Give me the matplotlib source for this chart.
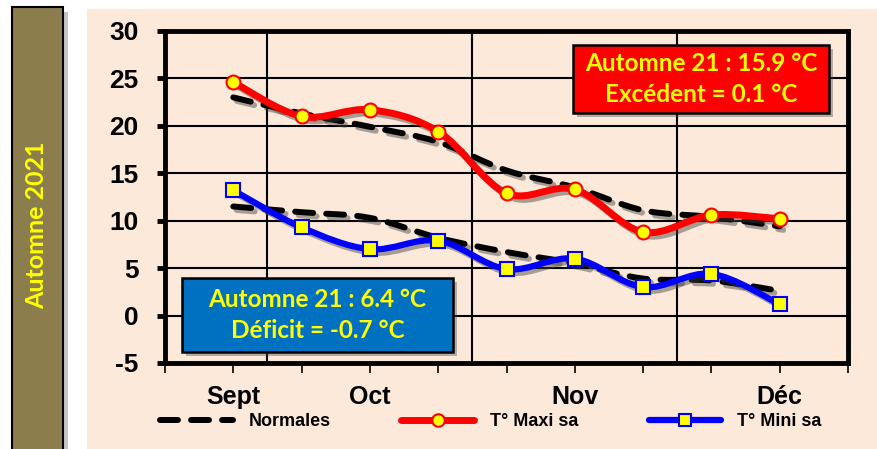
import numpy as np
import matplotlib
matplotlib.use("Agg")
import matplotlib.pyplot as plt
import matplotlib.patheffects as pe
from matplotlib.path import Path
from matplotlib.patches import PathPatch, Rectangle
from matplotlib.lines import Line2D

# Données
positions = np.arange(9)
tick_pos = np.arange(-1, 10)
tick_labels = ["", "Sept", "", "Oct", "", "", "Nov", "", "", "Déc", ""]
month_edges = [0.5, 3.5, 6.5]

t_maxi = [24.6, 21.0, 21.7, 19.4, 12.9, 13.3, 8.8, 10.6, 10.2]
t_mini = [13.2, 9.3, 7.0, 7.9, 4.9, 6.0, 3.0, 4.4, 1.2]
norm_maxi = [23.0, 21.3, 19.9, 18.3, 15.3, 13.5, 11.1, 10.4, 9.4]
norm_mini = [11.5, 10.9, 10.3, 8.2, 6.7, 5.5, 3.9, 3.7, 2.6]

PEACH = "#FCE9DA"
OLIVE = "#8C7E4C"
YELLOW = "#FFFF00"

plt.rcParams['font.family'] = ['Liberation Sans', 'DejaVu Sans']
plt.rcParams['axes.unicode_minus'] = False


def courbe_lissee(x, y):
    # lissage type Excel (Bezier de Catmull-Rom)
    pts = np.column_stack([x, y]).astype(float)
    n = len(pts)
    verts = [pts[0]]
    codes = [Path.MOVETO]
    for i in range(n - 1):
        p0 = pts[max(i - 1, 0)]
        p1 = pts[i]
        p2 = pts[i + 1]
        p3 = pts[min(i + 2, n - 1)]
        verts += [p1 + (p2 - p0) / 6, p2 - (p3 - p1) / 6, p2]
        codes += [Path.CURVE4] * 3
    return Path(verts, codes)


ombre = [pe.SimpleLineShadow(offset=(2.5, -2.5), shadow_color='0.25', alpha=0.45), pe.Normal()]
tirets = (0, (3.0, 2.2))

fig = plt.figure(figsize=(8.77, 4.49), dpi=100)

# fond saumon
fig.patches.append(Rectangle((87 / 877, 0), 1, (449 - 9) / 449, transform=fig.transFigure,
                             facecolor=PEACH, edgecolor='none', zorder=-2))
# bandeau olive
fig.patches.append(Rectangle((17 / 877, -0.02), 51 / 877, (449 - 12) / 449 + 0.02, transform=fig.transFigure,
                             facecolor='0.55', edgecolor='none', alpha=0.5, zorder=-1))
fig.patches.append(Rectangle((12 / 877, -0.02), 51 / 877, (449 - 7) / 449 + 0.02, transform=fig.transFigure,
                             facecolor=OLIVE, edgecolor='black', linewidth=1.5, zorder=-1))
fig.text(37 / 877, 1 - 225 / 449, "Automne 2021", rotation=90, color=YELLOW, fontsize=18,
         fontweight='bold', family=['Lato', 'DejaVu Sans'], ha='center', va='center')

ax = fig.add_axes([165 / 877, 86 / 449, 683 / 877, 332 / 449])
ax.set_facecolor(PEACH)
ax.set_xlim(-1, 9)
ax.set_ylim(-5, 30)

# grille
ax.set_yticks(range(-5, 31, 5))
ax.yaxis.grid(True, color='black', linewidth=1.5)
for xe in month_edges:
    ax.axvline(xe, color='black', linewidth=1.5, zorder=1)
ax.set_axisbelow(True)

for s in ax.spines.values():
    s.set_linewidth(3.5)

ax.set_xticks(tick_pos)
ax.set_xticklabels(tick_labels)
ax.tick_params(axis='y', length=6, width=3.5, pad=13, labelsize=19)
ax.tick_params(axis='x', length=7, width=1.2, pad=9, labelsize=18)
for lab in ax.get_xticklabels() + ax.get_yticklabels():
    lab.set_fontweight('bold')

# normales en tirets
for serie in (norm_maxi, norm_mini):
    ax.add_patch(PathPatch(courbe_lissee(positions, serie), facecolor='none', edgecolor='black',
                           linewidth=4.3, linestyle=tirets, capstyle='round',
                           zorder=3, path_effects=ombre))

# températures mesurées
ax.add_patch(PathPatch(courbe_lissee(positions, t_maxi), facecolor='none', edgecolor='red',
                       linewidth=5, capstyle='round', zorder=4, path_effects=ombre))
ax.plot(positions, t_maxi, ls='none', marker='o', ms=10, mfc=YELLOW, mec='red', mew=1.5, zorder=5)

ax.add_patch(PathPatch(courbe_lissee(positions, t_mini), facecolor='none', edgecolor='blue',
                       linewidth=4.5, capstyle='round', zorder=4, path_effects=ombre))
ax.plot(positions, t_mini, ls='none', marker='s', ms=10, mfc=YELLOW, mec='blue', mew=1.5, zorder=5)

# encadrés
def encadre(x0, y0, x1, y1, couleur, lignes):
    w = (x1 - x0) / 877
    h = (y1 - y0) / 449
    fig.patches.append(Rectangle((x0 / 877 + 4 / 877, 1 - y1 / 449 - 4 / 449), w, h,
                                 transform=fig.transFigure, facecolor='0.3', alpha=0.4,
                                 edgecolor='none', zorder=5))
    fig.patches.append(Rectangle((x0 / 877, 1 - y1 / 449), w, h, transform=fig.transFigure,
                                 facecolor=couleur, edgecolor='black', linewidth=1.8, zorder=6))
    cx = (x0 + x1) / 2 / 877
    cy = 1 - (y0 + y1) / 2 / 449
    fig.text(cx, cy, "\n".join(lignes), color=YELLOW, fontsize=17.5, fontweight='bold',
             family=['Lato', 'DejaVu Sans'], ha='center', va='center', linespacing=1.42, zorder=7)


encadre(573, 45, 829, 113, 'red', ["Automne 21 : 15.9 °C", "Excédent = 0.1 °C"])
encadre(182, 278, 453, 352, '#0070C0', ["Automne 21 : 6.4 °C", "Déficit = -0.7 °C"])

# légende
poignees = [
    Line2D([], [], color='black', lw=4.3, linestyle=tirets, dash_capstyle='round'),
    Line2D([], [], color='red', lw=5, solid_capstyle='round', marker='o', ms=9,
           mfc=YELLOW, mec='red', mew=1.5),
    Line2D([], [], color='blue', lw=4.5, solid_capstyle='round', marker='s', ms=9,
           mfc=YELLOW, mec='blue', mew=1.5),
]
leg = fig.legend(poignees, ["Normales", "T° Maxi sa", "T° Mini sa"], loc='center',
                 bbox_to_anchor=(491 / 877, 1 - 422 / 449), ncol=3, frameon=False,
                 handlelength=4.0, handletextpad=0.9, columnspacing=3.9, numpoints=1,
                 prop={'size': 13, 'weight': 'bold'})

plt.savefig("out.png", dpi=100)
